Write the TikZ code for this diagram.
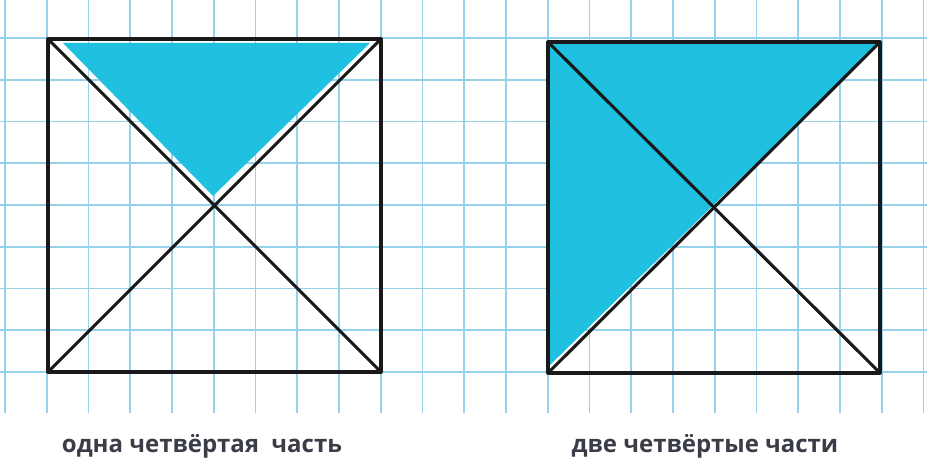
\documentclass[tikz,border=0pt]{standalone}
\usepackage{fontspec}
\setmainfont{Open Sans}
\usetikzlibrary{calc}
\definecolor{gridblue}{RGB}{150,210,236}
\definecolor{cyanfill}{RGB}{32,192,224}
\definecolor{textgray}{RGB}{58,60,72}
\tikzset{
  gridline/.style={gridblue, line width=1.9pt},
  edge/.style={black!90, line width=3.1pt, line join=round, line cap=round},
  caption/.style={font=\bfseries\fontsize{24}{28}\selectfont, text=textgray, inner sep=0pt, anchor=base}
}
\begin{document}
\begin{tikzpicture}[x=1pt,y=-1pt]
\useasboundingbox (0,0) rectangle (927,473);
\fill[white] (0,0) rectangle (927,473);
% grid
\foreach \k in {0,...,22} {
  \draw[gridline] (5+41.75*\k,0) -- (5+41.75*\k,413);
}
\foreach \j in {0,...,8} {
  \draw[gridline] (0,38+41.75*\j) -- (927,38+41.75*\j);
}
% left square
\coordinate (LTL) at (48,39);
\coordinate (LTR) at (381,39);
\coordinate (LBL) at (48,372);
\coordinate (LBR) at (381,372);
\fill[cyanfill] (63,43) -- (370,43) -- (213,196) -- cycle;
\draw[edge] (LTL) -- (LTR) -- (LBR) -- (LBL) -- cycle;
\draw[edge] (LTL) -- (LBR);
\draw[edge] (LTR) -- (LBL);
% right square
\coordinate (RTL) at (548,42);
\coordinate (RTR) at (880,42);
\coordinate (RBL) at (548,373);
\coordinate (RBR) at (880,373);
\fill[cyanfill] (RTL) -- (RTR) -- ($(RBL)+(0,-6)$) -- cycle;
\draw[edge] (RTL) -- (RTR) -- (RBR) -- (RBL) -- cycle;
\draw[edge] (RTL) -- (RBR);
\draw[edge] (RTR) -- (RBL);
% captions
\node[caption] (capL) at (202,452) {одна четвёртая\ \ часть};
\node[caption] (capR) at (705,452) {две четвёртые части};
\end{tikzpicture}
\end{document}
